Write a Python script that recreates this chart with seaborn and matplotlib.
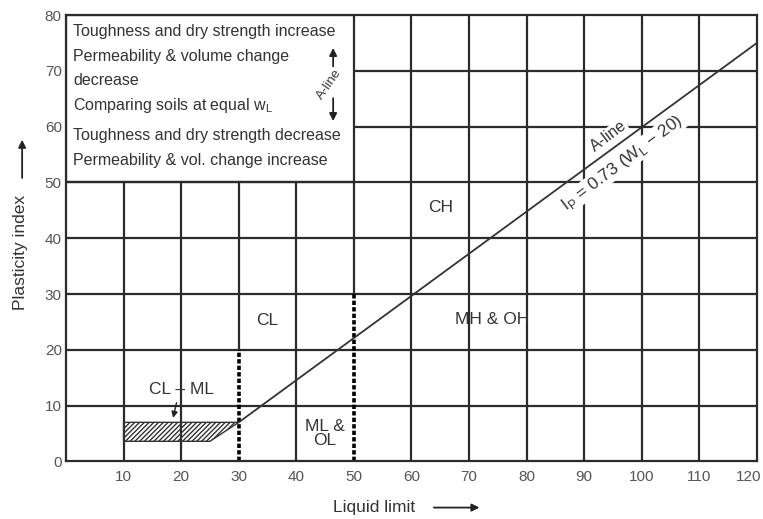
import matplotlib
matplotlib.use('Agg')
import matplotlib.pyplot as plt
from matplotlib.patches import Rectangle
from matplotlib.transforms import ScaledTranslation
import pandas as pd
import seaborn as sns

aline_wl = [30, 120]
aline_ip = [7, 75]

# Zone hachurée CL-ML
hatch_wl = [10, 25, 30, 10]
hatch_ip = [3.6, 3.6, 7, 7]

# Quadrillage (segments)
vgrid_full_x = [60, 70, 80, 90, 100, 110]
vgrid_low_x = [10, 20, 40]
hgrid_full_y = [10, 20, 30, 40, 50]
hgrid_right_y = [60, 70]

# Lignes pointillées en WL = 30 et WL = 50
dash_x = [30, 50]
dash_top = [20, 30]

xticks = [10, 20, 30, 40, 50, 60, 70, 80, 90, 100, 110, 120]
yticks = [0, 10, 20, 30, 40, 50, 60, 70, 80]

zones = ['CL', 'CH', 'MH & OH', 'ML &\nOL', 'CL – ML']
zone_x = [35, 65, 74, 45, 20]
zone_y = [25.2, 45.5, 25.5, 5.0, 12.8]

box_lines = ['Toughness and dry strength increase',
             'Permeability & volume change',
             'decrease',
             'Comparing soils at equal w$_\\mathregular{L}$',
             'Toughness and dry strength decrease',
             'Permeability & vol. change increase']
box_y = [77, 72.6, 68.2, 63.7, 58.5, 54]

sns.set_theme(style='white')
plt.rcParams['font.family'] = ['Liberation Sans', 'DejaVu Sans']

fig = plt.figure(figsize=(7.63, 5.19), dpi=100)
ax = fig.add_axes([0.0865, 0.111, 0.9055, 0.86])

gc = '#2b2b2b'
lw = 1.6
ax.vlines(vgrid_full_x, 0, 80, color=gc, lw=lw, zorder=1)
ax.vlines(vgrid_low_x, 0, 50, color=gc, lw=lw, zorder=1)
ax.vlines(dash_x, dash_top, 50, color=gc, lw=lw, zorder=1)
ax.vlines(dash_x, 0, dash_top, color='black', lw=2.6, linestyles=(0, (1.2, 0.6)), zorder=2)
ax.hlines(hgrid_full_y, 0, 120, color=gc, lw=lw, zorder=1)
ax.hlines(hgrid_right_y, 50, 120, color=gc, lw=lw, zorder=1)
ax.add_patch(Rectangle((0, 50), 50, 30, fill=False, edgecolor=gc, lw=lw, zorder=2))

# Zone CL-ML
ax.fill(hatch_wl, hatch_ip, facecolor='none', edgecolor='#333333', hatch='///////', lw=1.0, zorder=2)

# Ligne A
df = pd.DataFrame({'wl': aline_wl, 'ip': aline_ip})
sns.lineplot(data=df, x='wl', y='ip', color='#333333', lw=1.3, ax=ax, zorder=3)

for lab, zx, zy in zip(zones, zone_x, zone_y):
    ax.text(zx, zy, lab, ha='center', va='center', fontsize=12.5, color='#333333',
            linespacing=0.95, zorder=4)
ax.annotate('', xy=(18.5, 7.3), xytext=(19.3, 11.0),
            arrowprops=dict(arrowstyle='-|>', color='#222222', lw=1.0, mutation_scale=9), zorder=4)

ax.text(94.3, 58.3, 'A-line', rotation=37, ha='center', va='center', fontsize=11.5,
        color='#333333', rotation_mode='anchor',
        bbox=dict(facecolor='white', edgecolor='none', pad=0.5), zorder=4)
ax.text(96.6, 53.5, 'I$_\\mathregular{P}$ = 0.73 (W$_\\mathregular{L}$ − 20)', rotation=37,
        ha='center', va='center', fontsize=12.5, color='#333333', rotation_mode='anchor',
        bbox=dict(facecolor='white', edgecolor='none', pad=0.5), zorder=4)

for line, by in zip(box_lines, box_y):
    ax.text(1.2, by, line, ha='left', va='center', fontsize=11.5, color='#333333', zorder=4)

ax.annotate('', xy=(46.4, 74.6), xytext=(46.4, 70.3),
            arrowprops=dict(arrowstyle='-|>', color='#222222', lw=1.3, mutation_scale=11), zorder=4)
ax.annotate('', xy=(46.4, 60.5), xytext=(46.4, 65.6),
            arrowprops=dict(arrowstyle='-|>', color='#222222', lw=1.3, mutation_scale=11), zorder=4)
ax.text(45.8, 67.6, 'A-line', rotation=55, ha='center', va='center', fontsize=9.5,
        color='#333333', rotation_mode='anchor',
        bbox=dict(facecolor='white', edgecolor='none', pad=0.3), zorder=5)

ax.set_xlim(0, 120)
ax.set_ylim(0, 80)
ax.set_xticks(xticks)
ax.set_yticks(yticks)
ax.tick_params(axis='both', length=0, labelsize=11, labelcolor='#555555', pad=6)
ax.tick_params(axis='y', pad=3)
last = ax.get_xticklabels()[-1]
last.set_transform(last.get_transform() + ScaledTranslation(-6 / 72, 0, fig.dpi_scale_trans))
ax.set_xlabel('')
ax.set_ylabel('')
for s in ax.spines.values():
    s.set_color(gc)
    s.set_linewidth(lw)

# Titres des axes avec flèches
fig.text(0.49, 0.022, 'Liquid limit', ha='center', va='center', fontsize=12.5, color='#333333')
ax.annotate('', xy=(0.632, 0.022), xytext=(0.565, 0.022), xycoords='figure fraction',
            arrowprops=dict(arrowstyle='-|>', color='#222222', lw=1.3, mutation_scale=11))
fig.text(0.027, 0.514, 'Plasticity index', rotation=90, ha='center', va='center',
         fontsize=12.5, color='#333333')
ax.annotate('', xy=(0.029, 0.736), xytext=(0.029, 0.652), xycoords='figure fraction',
            arrowprops=dict(arrowstyle='-|>', color='#222222', lw=1.3, mutation_scale=11))

fig.savefig('out.png', dpi=100)
